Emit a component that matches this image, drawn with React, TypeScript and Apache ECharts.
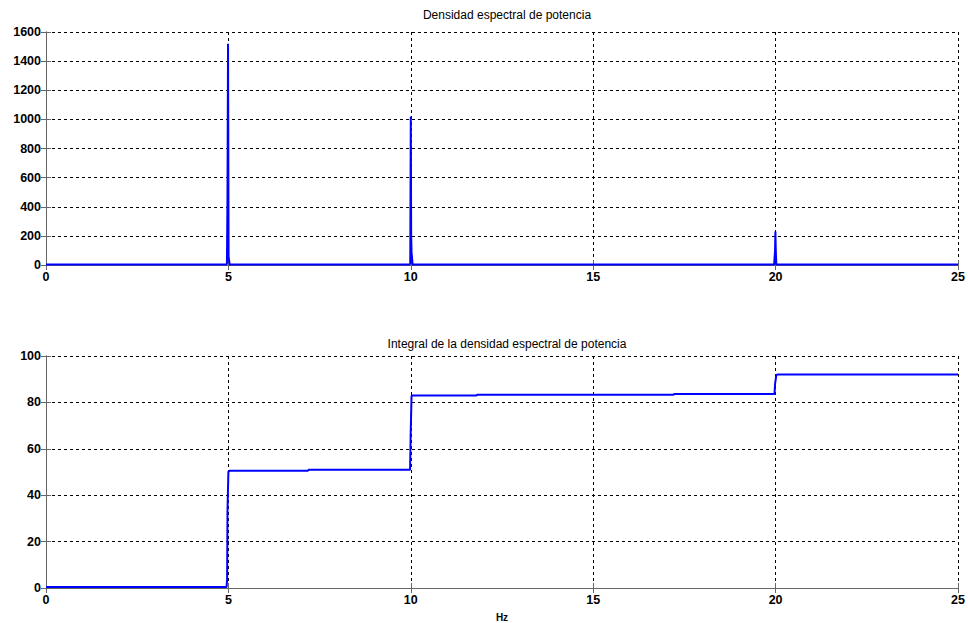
import React, { useEffect, useRef } from "react";
import * as echarts from "echarts";

// Top panel: power spectral density (Hz, value)
const psdFreq = [0, 4.94, 4.96, 4.975, 4.99, 5.005, 5.02, 5.035, 5.06, 9.96, 9.985, 10.0, 10.01, 10.02, 10.035, 10.05, 10.07, 19.96, 19.985, 19.995, 20.005, 20.02, 20.04, 25];
const psdValue = [3, 3, 8, 460, 1520, 60, 60, 3, 3, 3, 8, 1020, 200, 90, 90, 3, 3, 3, 100, 230, 100, 3, 3, 3];

// Bottom panel: cumulative integral of PSD
const intFreq = [0, 4.95, 4.965, 4.975, 4.985, 5.0, 5.03, 7.18, 7.2, 9.98, 9.995, 10.005, 10.02, 10.05, 11.8, 11.82, 17.2, 17.22, 19.97, 19.985, 19.995, 20.02, 20.05, 25];
const intValue = [0.4, 0.4, 3.7, 33, 33, 50.2, 50.5, 50.5, 51, 51, 65, 65, 82.7, 83, 83, 83.3, 83.3, 83.6, 83.6, 88, 88, 91.8, 92, 92];

const xTicks = [0, 5, 10, 15, 20, 25];
const psdTicks = [0, 200, 400, 600, 800, 1000, 1200, 1400, 1600];
const intTicks = [0, 20, 40, 60, 80, 100];

const titles = ["Densidad espectral de potencia", "Integral de la densidad espectral de potencia"];
const xName = "Hz";

const FONT = "Liberation Sans";

export default function App() {
  const ref = useRef<HTMLDivElement>(null);
  useEffect(() => {
    if (!ref.current) return;
    const chart = echarts.init(ref.current, null, { renderer: "svg" });
    const psdData = psdFreq.map((f, i) => [f, psdValue[i]]);
    const intData = intFreq.map((f, i) => [f, intValue[i]]);
    const axisLine = { show: true, lineStyle: { color: "#666", width: 1 } };
    const grid = { show: true, lineStyle: { color: "#000", type: [3, 3] as any, width: 1 } };
    const label = { color: "#000", fontFamily: FONT, fontSize: 12.5, fontWeight: "bold" as const, formatter: (v: number) => String(v) };
    const xBase = (gi: number, pos: "bottom" | "top", showLabels: boolean) => ({
      type: "value" as const,
      gridIndex: gi,
      position: pos,
      min: xTicks[0],
      max: xTicks[xTicks.length - 1],
      interval: 5,
      axisLine,
      axisTick: { show: true, inside: true, length: 5, lineStyle: { color: "#666" } },
      axisLabel: showLabels ? { ...label, margin: 5 } : { show: false },
      splitLine: showLabels ? grid : { show: false },
    });
    const yBase = (gi: number, pos: "left" | "right", ticks: number[], showLabels: boolean) => ({
      type: "value" as const,
      gridIndex: gi,
      position: pos,
      min: ticks[0],
      max: ticks[ticks.length - 1],
      interval: ticks[1] - ticks[0],
      axisLine,
      axisTick: { show: true, inside: true, length: 5, lineStyle: { color: "#666" } },
      axisLabel: showLabels ? { ...label, margin: 5 } : { show: false },
      splitLine: showLabels ? grid : { show: false },
    });
    chart.setOption({
      animation: false,
      backgroundColor: "#fff",
      title: [
        { text: titles[0], left: 502, top: 4, textAlign: "center", textStyle: { fontFamily: FONT, fontSize: 12, fontWeight: "normal", color: "#000" } },
        { text: titles[1], left: 502, top: 333, textAlign: "center", textStyle: { fontFamily: FONT, fontSize: 12, fontWeight: "normal", color: "#000" } },
      ],
      grid: [
        { left: 46, top: 32, width: 912, height: 233, show: false },
        { left: 46, top: 356, width: 912, height: 233, show: false },
      ],
      xAxis: [
        xBase(0, "bottom", true),
        xBase(0, "top", false),
        { ...xBase(1, "bottom", true), name: xName, nameLocation: "middle", nameGap: 24, nameTextStyle: { color: "#000", fontFamily: FONT, fontSize: 10, fontWeight: "bold" } },
        xBase(1, "top", false),
      ],
      yAxis: [
        yBase(0, "left", psdTicks, true),
        yBase(0, "right", psdTicks, false),
        yBase(1, "left", intTicks, true),
        yBase(1, "right", intTicks, false),
      ],
      series: [
        { type: "line", xAxisIndex: 0, yAxisIndex: 0, data: psdData, showSymbol: false, lineStyle: { color: "#0000ff", width: 2 }, itemStyle: { color: "#0000ff" } },
        { type: "line", xAxisIndex: 2, yAxisIndex: 2, data: intData, showSymbol: false, lineStyle: { color: "#0000ff", width: 2 }, itemStyle: { color: "#0000ff" } },
      ],
    });
    return () => chart.dispose();
  }, []);
  return <div ref={ref} style={{ position: "fixed", left: 0, top: 0, width: 968, height: 623 }} />;
}
